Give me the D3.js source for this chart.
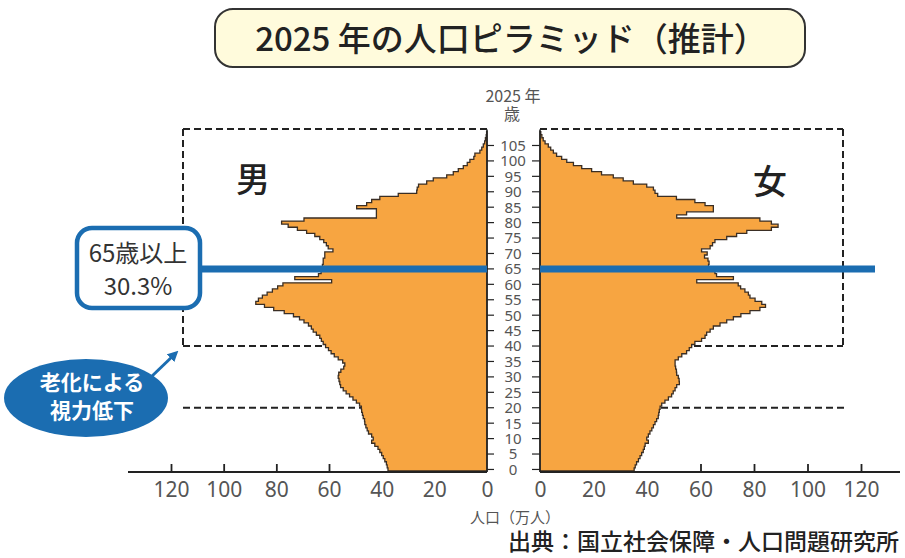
<!DOCTYPE html>
<html>
<head>
<meta charset="utf-8">
<script src="https://cdn.jsdelivr.net/npm/d3@7"></script>
<style>
  body { margin: 0; background: #fff; }
  svg { display: block; }
</style>
</head>
<body>
<svg id="chart"></svg>
<script>
const ageTicks = [0, 5, 10, 15, 20, 25, 30, 35, 40, 45, 50, 55, 60, 65, 70, 75, 80, 85, 90, 95, 100, 105];
const popTicks = [0, 20, 40, 60, 80, 100, 120];
const popTickMarks = [60, 80, 100, 120];

// population by single year of age, 0..109 (万人)
const male = [
  37.6, 37.9, 38.2, 38.8, 39.4, 40.0, 40.7, 41.4, 42.6, 43.8,
  43.2, 43.8, 45.0, 45.5, 46.0, 46.4, 46.5, 47.0, 47.3, 47.6,
  47.7, 48.4, 49.6, 50.9, 52.2, 53.5, 54.6, 55.6, 55.9, 56.2,
  56.5, 56.3, 55.5, 54.4, 54.0, 54.8, 56.5, 58.0, 59.2, 60.2,
  61.3, 62.2, 62.9, 63.5, 64.8, 66.0, 66.7, 67.8, 69.5, 71.2,
  73.5, 77.0, 81.0, 84.5, 87.8, 86.8, 85.3, 83.5, 81.5, 79.5,
  77.5, 59.0, 73.0, 64.0, 63.0, 62.5, 62.5, 62.2, 62.2, 61.6,
  61.6, 58.5, 60.3, 61.0, 62.0, 63.5, 65.4, 68.5, 72.0, 75.5,
  78.0, 69.5, 42.0, 42.0, 42.0, 49.5, 45.7, 43.8, 40.7, 33.7,
  26.7, 26.5, 26.0, 22.9, 20.4, 15.3, 12.8, 10.9, 9.0, 7.5,
  6.5, 5.0, 4.6, 2.7, 2.0, 1.4, 0.9, 0.6, 0.3, 0.15
];
const female = [
  35.2, 35.6, 36.1, 36.8, 37.4, 38.0, 38.6, 39.0, 39.3, 40.5,
  39.9, 40.5, 41.1, 41.8, 42.4, 43.0, 43.6, 44.2, 44.4, 44.6,
  44.9, 45.5, 46.7, 48.0, 49.2, 49.8, 50.5, 51.1, 52.1, 52.0,
  51.7, 51.1, 51.0, 50.7, 50.5, 50.5, 51.7, 53.0, 54.8, 55.8,
  56.7, 57.9, 60.4, 61.7, 62.3, 63.6, 64.8, 67.3, 69.8, 72.3,
  75.1, 78.5, 82.2, 84.3, 82.9, 80.4, 78.5, 77.9, 76.6, 75.0,
  74.1, 58.6, 72.3, 66.0, 65.4, 64.0, 63.0, 63.2, 62.8, 61.5,
  62.5, 60.4, 63.6, 64.5, 65.4, 69.8, 73.5, 77.3, 86.5, 89.0,
  86.5, 82.2, 51.1, 54.8, 64.8, 64.8, 61.7, 57.9, 51.0, 44.0,
  43.0, 42.4, 39.9, 34.9, 31.1, 27.4, 23.0, 19.3, 15.6, 12.5,
  10.0, 8.1, 6.2, 5.0, 4.0, 3.1, 1.9, 1.2, 0.7, 0.3
];

const chartSize = { width: 905, height: 558 };
const axisY = 472;
const midLeft = 487;
const midRight = 540;
const blue = "#1b6db1";
const orange = "#f7a541";
const outline = "#3a2e24";
const ink = "#222";
const grey = "#555";
const jpFont = "'Noto Sans CJK JP', sans-serif";
const numFont = "'Noto Sans', 'Open Sans', sans-serif";

const xL = d3.scaleLinear().domain([0, 120]).range([midLeft, 171]);
const xR = d3.scaleLinear().domain([0, 120]).range([midRight, 861]);
const y = d3.scaleLinear().domain([0, 110]).range([471, 131.6]);
const ageCenter = a => y(a + 0.5);

const svg = d3
  .select("#chart")
  .attr("width", chartSize.width)
  .attr("height", chartSize.height);

const dashed = (x1, y1, x2, y2) =>
  svg
    .append("line")
    .attr("x1", x1)
    .attr("y1", y1)
    .attr("x2", x2)
    .attr("y2", y2)
    .attr("stroke", ink)
    .attr("stroke-width", 2)
    .attr("stroke-dasharray", "7,4");

const drawDashedBox = () => {
  const top = 129;
  const bottom = ageCenter(40);
  const low = ageCenter(20);
  dashed(183, top, midLeft, top);
  dashed(midRight, top, 843, top);
  dashed(183, top, 183, bottom);
  dashed(843, top, 843, bottom);
  dashed(183, bottom, midLeft, bottom);
  dashed(midRight, bottom, 843, bottom);
  dashed(183, low, midLeft, low);
  dashed(midRight, low, 845, low);
};

const stepPoints = values => [
  [0, 0],
  ...values.flatMap((v, i) => [[v, i], [v, i + 1]]),
  [0, values.length]
];

const drawHalf = (values, x) => {
  const line = d3
    .line()
    .x(p => x(p[0]))
    .y(p => y(p[1]));
  svg
    .append("path")
    .attr("d", line(stepPoints(values)) + "Z")
    .attr("fill", orange)
    .attr("stroke", outline)
    .attr("stroke-width", 1.3)
    .attr("stroke-linejoin", "miter");
};

const drawAxes = () => {
  [[128, midLeft], [midRight, 900]].forEach(([a, b]) => {
    svg
      .append("line")
      .attr("x1", a)
      .attr("x2", b)
      .attr("y1", axisY)
      .attr("y2", axisY)
      .attr("stroke", ink)
      .attr("stroke-width", 1.8);
  });

  [xL, xR].forEach(x => {
    const labels = svg
      .append("g")
      .attr("transform", `translate(0,${axisY})`)
      .call(d3.axisBottom(x).tickValues(popTicks).tickSize(0).tickPadding(10));
    labels.select(".domain").remove();
    labels
      .selectAll("text")
      .attr("font-family", numFont)
      .attr("font-size", 21)
      .attr("fill", grey);

    const marks = svg
      .append("g")
      .attr("transform", `translate(0,${axisY})`)
      .call(d3.axisTop(x).tickValues(popTickMarks).tickSize(8).tickFormat(""));
    marks.select(".domain").remove();
    marks.selectAll("line").attr("stroke", ink).attr("stroke-width", 1.8);
  });

  [midLeft, midRight].forEach(x => {
    svg
      .append("line")
      .attr("x1", x)
      .attr("x2", x)
      .attr("y1", y(110) - 2)
      .attr("y2", axisY)
      .attr("stroke", ink)
      .attr("stroke-width", 1.6);
  });

  svg
    .selectAll(".age-tick-l")
    .data(ageTicks)
    .enter()
    .append("line")
    .attr("x1", midLeft)
    .attr("x2", midLeft + 7)
    .attr("y1", ageCenter)
    .attr("y2", ageCenter)
    .attr("stroke", ink)
    .attr("stroke-width", 1.2);

  svg
    .selectAll(".age-tick-r")
    .data(ageTicks)
    .enter()
    .append("line")
    .attr("x1", midRight - 8)
    .attr("x2", midRight)
    .attr("y1", ageCenter)
    .attr("y2", ageCenter)
    .attr("stroke", ink)
    .attr("stroke-width", 1.2);

  svg
    .selectAll(".age-label")
    .data(ageTicks)
    .enter()
    .append("text")
    .attr("x", 513)
    .attr("y", ageCenter)
    .attr("dy", "0.36em")
    .attr("text-anchor", "middle")
    .attr("font-family", numFont)
    .attr("font-size", 15)
    .attr("fill", grey)
    .text(d => d);
};

const addText = (text, x, yPos, size, opts = {}) =>
  svg
    .append("text")
    .attr("x", x)
    .attr("y", yPos)
    .attr("text-anchor", opts.anchor || "middle")
    .attr("font-family", opts.font || jpFont)
    .attr("font-size", size)
    .attr("font-weight", opts.weight || 400)
    .attr("fill", opts.fill || ink)
    .text(text);

const drawTitle = () => {
  svg
    .append("rect")
    .attr("x", 215)
    .attr("y", 9)
    .attr("width", 590)
    .attr("height", 58)
    .attr("rx", 18)
    .attr("fill", "#fffbdc")
    .attr("stroke", "#333")
    .attr("stroke-width", 2);
  addText("2025 年の人口ピラミッド（推計）", 511, 51, 33, { weight: 500 });
};

const drawLabels = () => {
  addText("2025 年", 513, 102, 16, { fill: grey });
  addText("歳", 512, 120, 16, { fill: grey });
  addText("男", 253, 192, 34, { weight: 500 });
  addText("女", 770, 194, 34, { weight: 500 });
  addText("人口（万人）", 470, 523, 15, { anchor: "start", fill: grey });
  addText("出典：国立社会保障・人口問題研究所", 899, 550, 23, {
    anchor: "end",
    weight: 500
  });
};

const drawCallouts = () => {
  const lineY = ageCenter(65);
  [[200, midLeft], [midRight, 875]].forEach(([a, b]) => {
    svg
      .append("line")
      .attr("x1", a)
      .attr("x2", b)
      .attr("y1", lineY)
      .attr("y2", lineY)
      .attr("stroke", blue)
      .attr("stroke-width", 7);
  });

  svg
    .append("rect")
    .attr("x", 77)
    .attr("y", 228)
    .attr("width", 123)
    .attr("height", 80)
    .attr("rx", 15)
    .attr("fill", "#fff")
    .attr("stroke", blue)
    .attr("stroke-width", 4.5);
  addText("65歳以上", 138, 262, 24, { fill: "#333" });
  addText("30.3%", 138, 295, 24, { fill: "#333" });

  svg
    .append("defs")
    .append("marker")
    .attr("id", "arrow")
    .attr("viewBox", "0 0 10 10")
    .attr("refX", 7)
    .attr("refY", 5)
    .attr("markerWidth", 3.6)
    .attr("markerHeight", 3.6)
    .attr("orient", "auto")
    .append("path")
    .attr("d", "M0,0L10,5L0,10z")
    .attr("fill", blue);

  svg
    .append("line")
    .attr("x1", 150)
    .attr("y1", 378)
    .attr("x2", 176)
    .attr("y2", 353)
    .attr("stroke", blue)
    .attr("stroke-width", 3)
    .attr("marker-end", "url(#arrow)");

  svg
    .append("ellipse")
    .attr("cx", 86)
    .attr("cy", 398)
    .attr("rx", 82)
    .attr("ry", 39)
    .attr("fill", blue);
  addText("老化による", 92, 390, 21, { fill: "#fff", weight: 700 });
  addText("視力低下", 92, 418, 21, { fill: "#fff", weight: 700 });
};

const main = () => {
  drawTitle();
  drawDashedBox();
  drawHalf(male, xL);
  drawHalf(female, xR);
  drawAxes();
  drawCallouts();
  drawLabels();
};

window.onload = main;
</script>
</body>
</html>
